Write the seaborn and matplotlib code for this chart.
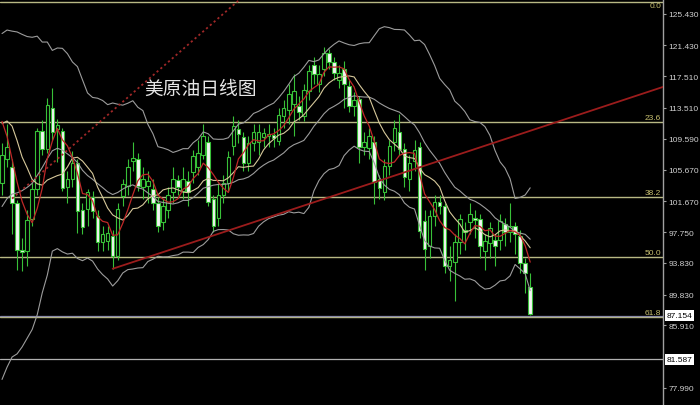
import matplotlib
matplotlib.use("Agg")
import matplotlib.pyplot as plt
import numpy as np
import pandas as pd
import seaborn as sns

# daily candles (left to right)
open_prices = [104.0, 107.0, 106.0, 101.5, 95.5, 95.3, 99.4, 103.2, 110.6, 108.3,
               113.5, 110.8, 110.6, 103.5, 104.5, 106.5, 100.6, 100.7, 102.2, 99.8,
               96.5, 96.6, 97.2, 94.7, 102.3, 103.6, 106.8, 107.0, 103.5, 103.6,
               103.2, 101.5, 99.0, 100.5, 102.8, 104.3, 103.0, 104.2, 105.4, 106.0,
               107.5, 109.2, 102.0, 99.5, 102.5, 104.0, 108.7, 110.8, 109.8, 106.5,
               109.0, 109.2, 109.8, 109.9, 110.1, 109.3, 112.5, 113.3, 114.0, 113.8,
               112.5, 115.6, 119.0, 116.5, 118.5, 120.5, 119.3, 117.0, 118.4, 116.3,
               113.8, 114.6, 108.6, 108.4, 109.2, 104.5, 102.8, 106.1, 109.2, 110.5,
               108.3, 104.5, 106.8, 108.5, 99.2, 96.0, 99.8, 101.6, 101.0, 93.5,
               94.0, 96.5, 98.0, 99.0, 99.6, 99.4, 95.3, 96.4, 96.7, 96.8,
               98.8, 97.8, 98.5, 97.2, 93.8, 90.8]
close_prices = [107.5, 108.5, 101.5, 95.5, 95.2, 99.3, 103.2, 110.6, 108.3, 113.9,
                110.4, 111.3, 103.4, 104.5, 106.5, 100.4, 98.4, 102.8, 100.4, 96.5,
                97.5, 97.6, 94.7, 100.7, 103.8, 106.0, 107.2, 103.6, 104.5, 104.2,
                101.5, 98.5, 101.0, 102.5, 104.5, 103.5, 104.5, 102.8, 107.4, 107.8,
                110.0, 101.6, 98.5, 102.5, 104.0, 107.3, 111.2, 110.2, 106.5, 109.0,
                110.5, 110.4, 110.3, 110.2, 109.7, 112.6, 113.5, 115.3, 115.6, 113.0,
                115.8, 118.2, 117.8, 117.8, 120.5, 119.3, 118.0, 118.0, 116.5, 113.8,
                114.5, 108.5, 109.2, 110.0, 104.1, 103.4, 106.1, 108.7, 110.9, 108.3,
                104.8, 106.5, 108.2, 97.9, 95.6, 99.8, 101.6, 101.1, 93.5, 94.2,
                96.5, 99.4, 97.7, 100.0, 99.3, 96.0, 96.6, 98.3, 96.0, 99.2,
                97.8, 98.5, 97.5, 93.8, 92.5, 87.4]
high_prices = [109.0, 111.5, 107.0, 101.8, 97.0, 100.5, 104.0, 111.0, 112.0, 114.8,
               116.0, 112.1, 111.0, 105.5, 108.0, 107.0, 101.5, 103.2, 103.0, 100.5,
               98.5, 98.5, 98.0, 101.5, 104.5, 107.0, 109.2, 107.8, 106.0, 105.5,
               104.5, 102.2, 102.0, 103.5, 106.0, 105.0, 106.0, 105.5, 108.2, 109.5,
               111.5, 110.0, 102.5, 104.0, 105.0, 108.0, 112.5, 112.0, 110.5, 110.0,
               111.5, 111.5, 111.0, 111.5, 111.0, 113.5, 114.5, 116.5, 117.8, 115.0,
               116.5, 119.0, 120.0, 119.0, 121.2, 121.0, 120.0, 119.0, 119.5, 117.0,
               115.5, 115.0, 110.5, 111.0, 110.0, 105.0, 107.0, 109.5, 112.0, 112.7,
               109.0, 107.5, 109.5, 109.2, 100.5, 100.5, 102.5, 102.5, 101.5, 96.0,
               97.5, 100.0, 99.0, 101.5, 100.5, 100.0, 97.5, 99.0, 97.5, 100.0,
               99.5, 101.5, 99.0, 98.0, 94.5, 92.5]
low_prices = [102.5, 106.0, 97.5, 93.0, 92.8, 93.5, 98.5, 102.5, 107.5, 107.8,
              109.5, 106.6, 103.0, 101.5, 103.5, 97.6, 97.5, 98.5, 99.5, 95.3,
              95.3, 95.5, 93.1, 94.2, 101.0, 102.5, 105.5, 103.0, 102.0, 101.5,
              100.5, 97.8, 98.0, 99.5, 101.5, 102.5, 102.0, 101.0, 104.0, 105.0,
              107.0, 101.0, 97.8, 98.5, 101.5, 103.0, 107.5, 109.0, 105.5, 105.5,
              108.0, 107.5, 108.5, 108.5, 108.5, 108.8, 111.0, 111.5, 110.0, 112.0,
              111.8, 114.5, 116.5, 115.5, 117.5, 118.5, 117.0, 116.0, 113.5, 113.0,
              112.5, 106.5, 107.5, 107.0, 101.3, 102.0, 101.8, 105.0, 108.0, 107.5,
              103.5, 103.0, 105.5, 97.0, 93.0, 94.5, 98.5, 100.0, 92.5, 91.5,
              89.0, 95.0, 95.5, 97.5, 97.0, 94.5, 93.0, 94.5, 93.5, 95.5,
              96.0, 96.5, 95.0, 92.5, 90.0, 87.2]
# closes before the first visible bar, only used to warm up the indicators
warmup_close = [88.5, 90.0, 92.5, 89.5, 91.0, 93.0, 90.5, 88.0, 91.5, 90.5,
                105.0, 108.0, 114.0, 116.0, 113.0, 118.0, 116.0, 110.0, 107.5]

tick_values = [125.43, 121.43, 117.51, 113.51, 109.59, 105.67, 101.67,
               97.75, 93.83, 89.83, 85.91, 77.99]
fib_ratios = [0.0, 23.6, 38.2, 50.0, 61.8]
fib_high = 126.9
fib_low = 62.35
last_price = 87.154
support_price = 81.587
# trend lines as (bar, price) anchors
trend_bars = [22, 132]
trend_prices = [93.1, 116.3]
channel_bars = [2, 50]
channel_prices = [102.0, 128.8]

df = pd.DataFrame({"open": open_prices, "high": high_prices,
                   "low": low_prices, "close": close_prices})
df["bar"] = np.arange(len(df))

n_warm = len(warmup_close)
all_close = pd.Series(warmup_close + close_prices)
ind = pd.DataFrame({"bar": np.arange(len(all_close)) - n_warm})
ind["ma5"] = all_close.rolling(5).mean()
ind["ma10"] = all_close.rolling(10).mean()
ind["mid"] = all_close.rolling(20).mean()
sd = all_close.rolling(20).std(ddof=0)
ind["upper"] = ind["mid"] + 2 * sd
ind["lower"] = ind["mid"] - 2 * sd
ind = ind[ind["bar"] >= 0]

sns.set_theme(style="dark", rc={"axes.facecolor": "black",
                                "figure.facecolor": "black"})
plt.rcParams["font.family"] = ["Liberation Sans", "DejaVu Sans"]

fig = plt.figure(figsize=(7, 4.06), dpi=100)
ax = fig.add_axes([0, 0, 663 / 700, 1])
ax.set_facecolor("black")

green = "#38c038"
fib_color = "#b8b884"

# fibonacci levels
for r in fib_ratios:
    level = fib_high - (fib_high - fib_low) * r / 100
    ax.axhline(level, color=fib_color, lw=1.0, zorder=1)
    # the top label would fall off the chart, so let it sit on its line
    offset = 0.12 if r > 0 else -0.85
    ax.text(0.997, level + offset, f"{r:.1f}", transform=ax.get_yaxis_transform(),
            ha="right", va="bottom", color="#c8c070", fontsize=6)

ax.axhline(last_price, color="#8a8aa8", lw=0.9, zorder=1)
ax.axhline(support_price, color="#b0b0b0", lw=0.9, zorder=1)

# candles
up = df["close"] >= df["open"]
ax.vlines(df["bar"], df["low"], df["high"], color=green, lw=0.8, zorder=3)
body_low = df[["open", "close"]].min(axis=1)
body_h = (df["close"] - df["open"]).abs().clip(lower=0.12)
ax.bar(df["bar"], body_h, bottom=body_low, width=0.7,
       color=np.where(up, "black", "#f4f4f4"), edgecolor=green,
       linewidth=0.8, zorder=4)

# indicators
for col in ["upper", "mid", "lower"]:
    sns.lineplot(data=ind, x="bar", y=col, ax=ax, color="#9c9c9c", lw=0.8, zorder=5)
sns.lineplot(data=ind, x="bar", y="ma10", ax=ax, color="#d6c89a", lw=0.8, zorder=5)
sns.lineplot(data=ind, x="bar", y="ma5", ax=ax, color="#c02828", lw=0.9, zorder=6)

# trend lines
ax.plot(trend_bars, trend_prices, color="#9b1c1c", lw=1.3, zorder=6)
ax.plot(channel_bars, channel_prices, color="#a02828", lw=1.3,
        linestyle=(0, (1.2, 1.6)), zorder=6)

ax.text(0.302, 0.781, "美原油日线图", transform=ax.transAxes, ha="center",
        va="center", color="#e6e6e6", fontsize=13.5,
        family=["Noto Sans CJK SC", "DejaVu Sans"])

ax.set_xlim(-0.4, 131.4)
ax.set_ylim(75.81, 127.33)
ax.set_xlabel("")
ax.set_ylabel("")
ax.set_xticks([])
ax.yaxis.tick_right()
ax.set_yticks(tick_values)
ax.set_yticklabels([f"{v:.3f}" for v in tick_values])
ax.tick_params(axis="y", colors="#a0a0a0", labelcolor="#d0d0d0",
               labelsize=6, length=2.5, width=0.8, pad=1.5, direction="out",
               right=True, left=False)
ax.grid(False)
for side in ["top", "left", "bottom"]:
    ax.spines[side].set_visible(False)
ax.spines["right"].set_color("#a0a0a0")
ax.spines["right"].set_linewidth(1.0)

for price in [last_price, support_price]:
    ax.text(1.006, price, f"{price:.3f}", transform=ax.get_yaxis_transform(),
            ha="left", va="center", color="black", fontsize=6,
            bbox=dict(boxstyle="square,pad=0.2", fc="white", ec="none"),
            clip_on=False)

fig.savefig("out.png", dpi=100, facecolor="black")
